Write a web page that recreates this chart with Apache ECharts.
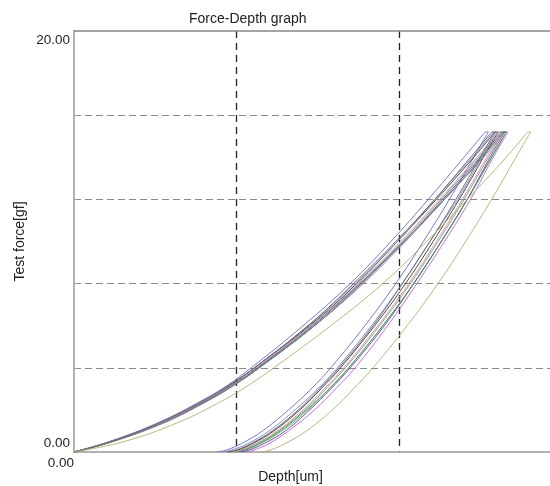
<!DOCTYPE html>
<html>
<head>
<meta charset="utf-8">
<script src="https://cdn.jsdelivr.net/npm/echarts@6/dist/echarts.min.js"></script>
<style>
html,body{margin:0;padding:0;background:#fff;}
#chart{width:550px;height:486px;}
</style>
</head>
<body>
<div id="chart"></div>
<script>
// Force levels (gf) at which depths were read for the loading and unloading branches
const loadForce   = [0, 0.5, 1.4, 2.5, 3.2, 4, 6, 8, 10, 12, 14, 15.2];
const unloadForce = [15.2, 14, 12, 10, 8, 6, 4, 3, 2, 1, 0.4, 0.1, 0];

// Depth [um] readings per test
const t1Load   = [0,0.22,0.52,0.80,0.95,1.09,1.41,1.70,1.95,2.18,2.40,2.53];
const t1Unload = [2.55,2.46,2.31,2.15,1.98,1.79,1.58,1.46,1.32,1.16,1.03,0.94,0.88];
const t2Load   = [0,0.23,0.54,0.82,0.97,1.11,1.45,1.74,1.99,2.23,2.46,2.59];
const t2Unload = [2.61,2.52,2.37,2.21,2.04,1.85,1.64,1.52,1.39,1.23,1.10,1.01,0.95];
const t3Load   = [0,0.24,0.55,0.83,0.98,1.13,1.46,1.76,2.02,2.26,2.49,2.62];
const t3Unload = [2.64,2.55,2.40,2.24,2.07,1.88,1.67,1.55,1.42,1.26,1.13,1.04,0.98];
const t4Load   = [0,0.23,0.55,0.84,0.99,1.14,1.48,1.77,2.03,2.28,2.51,2.64];
const t4Unload = [2.66,2.57,2.42,2.26,2.09,1.90,1.69,1.57,1.44,1.28,1.15,1.06,1.00];
const t5Load   = [0,0.24,0.56,0.84,0.99,1.14,1.48,1.78,2.04,2.28,2.52,2.65];
const t5Unload = [2.67,2.58,2.44,2.28,2.11,1.93,1.73,1.61,1.48,1.32,1.20,1.11,1.05];
const t6Load   = [0,0.23,0.54,0.83,0.98,1.13,1.47,1.76,2.03,2.27,2.50,2.63];
const t6Unload = [2.65,2.56,2.42,2.26,2.09,1.91,1.70,1.58,1.45,1.30,1.17,1.08,1.02];
const t7Load   = [0,0.22,0.53,0.81,0.96,1.11,1.44,1.73,1.99,2.22,2.45,2.58];
const t7Unload = [2.60,2.51,2.36,2.19,2.02,1.83,1.62,1.50,1.36,1.20,1.07,0.97,0.91];
const t8Load   = [0,0.24,0.55,0.83,0.99,1.14,1.48,1.77,2.03,2.28,2.51,2.64];
const t8Unload = [2.66,2.57,2.42,2.26,2.09,1.90,1.69,1.57,1.43,1.27,1.14,1.05,0.99];
const t9Load   = [0,0.23,0.54,0.82,0.98,1.12,1.46,1.75,2.01,2.25,2.48,2.61];
const t9Unload = [2.63,2.54,2.39,2.23,2.06,1.87,1.66,1.54,1.41,1.25,1.12,1.03,0.97];
const t10Load  = [0,0.23,0.53,0.81,0.96,1.11,1.44,1.72,1.98,2.22,2.44,2.57];
const t10Unload= [2.59,2.50,2.35,2.19,2.02,1.84,1.63,1.51,1.38,1.22,1.09,1.00,0.94];
const t11Load  = [0,0.31,0.64,0.93,1.08,1.23,1.58,1.90,2.17,2.42,2.66,2.79];
const t11Unload= [2.81,2.72,2.57,2.41,2.24,2.05,1.84,1.72,1.59,1.43,1.30,1.21,1.15];

const testColors = ['#6a6ad0','#333333','#8a8a8a','#5cc05c','#c060d0','#6a3fa8','#8080c8','#3f8f5f','#c89090','#606060','#b0b070'];

const xTicks = [0, 1, 2, 3];
const yTicks = [0, 4, 8, 12, 16, 20];

const tests = [
  [t1Load,t1Unload],[t2Load,t2Unload],[t3Load,t3Unload],[t4Load,t4Unload],
  [t5Load,t5Unload],[t6Load,t6Unload],[t7Load,t7Unload],[t8Load,t8Unload],
  [t9Load,t9Unload],[t10Load,t10Unload],[t11Load,t11Unload]
];

const series = [];
tests.forEach(function(t, i){
  const color = testColors[i];
  const common = {
    type: 'line', showSymbol: false, symbol: 'none', smooth: 0.4,
    lineStyle: {color: color, width: 0.9}, silent: true, animation: false
  };
  series.push(Object.assign({}, common, {data: t[0].map(function(d, k){ return [d, loadForce[k]]; })}));
  series.push(Object.assign({}, common, {data: t[1].map(function(d, k){ return [d, unloadForce[k]]; })}));
  // hold segment at peak
  series.push(Object.assign({}, common, {smooth: false, data: [[t[0][t[0].length-1], loadForce[loadForce.length-1]], [t[1][0], unloadForce[0]]]}));
});

const chart = echarts.init(document.getElementById('chart'), null, {renderer: 'canvas'});
const FONT = 'Liberation Sans, Arial, sans-serif';
chart.setOption({
  animation: false,
  backgroundColor: '#fff',
  title: {
    text: 'Force-Depth graph', left: 189, top: 12, padding: 0,
    textStyle: {fontFamily: FONT, fontSize: 14, fontWeight: 'normal', color: '#222'}
  },
  grid: {left: 74, top: 31, width: 487.5, height: 421, containLabel: false, outerBoundsMode: 'none'},
  xAxis: [{
    type: 'value', min: xTicks[0], max: xTicks[xTicks.length-1], interval: 1,
    name: 'Depth[um]', nameLocation: 'middle', nameGap: 18, nameMoveOverlap: false,
    nameTextStyle: {fontFamily: FONT, fontSize: 14, color: '#222', padding: [0, 54.5, 0, 0]},
    axisLine: {show: true, lineStyle: {color: '#999', width: 1.5}},
    axisTick: {show: false},
    axisLabel: {
      showMinLabel: true, showMaxLabel: false, margin: 4, align: 'right',
      fontFamily: FONT, fontSize: 13.5, color: '#222',
      formatter: function(v){ return v === 0 ? '0.00' : ''; }
    },
    splitLine: {show: true, lineStyle: {color: ['transparent','#222','#222','transparent'], type: [7,5], width: 1.3}}
  }, {
    type: 'value', position: 'top', min: 0, max: 3,
    axisLine: {show: true, lineStyle: {color: '#888', width: 1.5}},
    axisTick: {show: false}, axisLabel: {show: false}, splitLine: {show: false}
  }],
  yAxis: {
    type: 'value', min: yTicks[0], max: yTicks[yTicks.length-1], interval: 4,
    name: 'Test force[gf]', nameLocation: 'middle', nameGap: 47, nameMoveOverlap: false,
    nameTextStyle: {fontFamily: FONT, fontSize: 14, color: '#222'},
    axisLine: {show: true, lineStyle: {color: '#999', width: 1.5}},
    axisTick: {show: true, inside: true, length: 4, lineStyle: {color: '#999'}},
    axisLabel: {
      margin: 4, fontFamily: FONT, fontSize: 13.5, color: '#222',
      formatter: function(v){
        if (v === 20) return '{t|20.00}';
        if (v === 0) return '{b|0.00}';
        return '';
      },
      rich: {
        t: {fontFamily: FONT, fontSize: 13.5, color: '#222', padding: [18,0,0,0]},
        b: {fontFamily: FONT, fontSize: 13.5, color: '#222', padding: [0,0,18,0]}
      }
    },
    splitLine: {show: true, lineStyle: {color: ['transparent','#888','#888','#888','#888','transparent'], type: [7,4], width: 1}}
  },
  series: series
});
</script>
</body>
</html>
